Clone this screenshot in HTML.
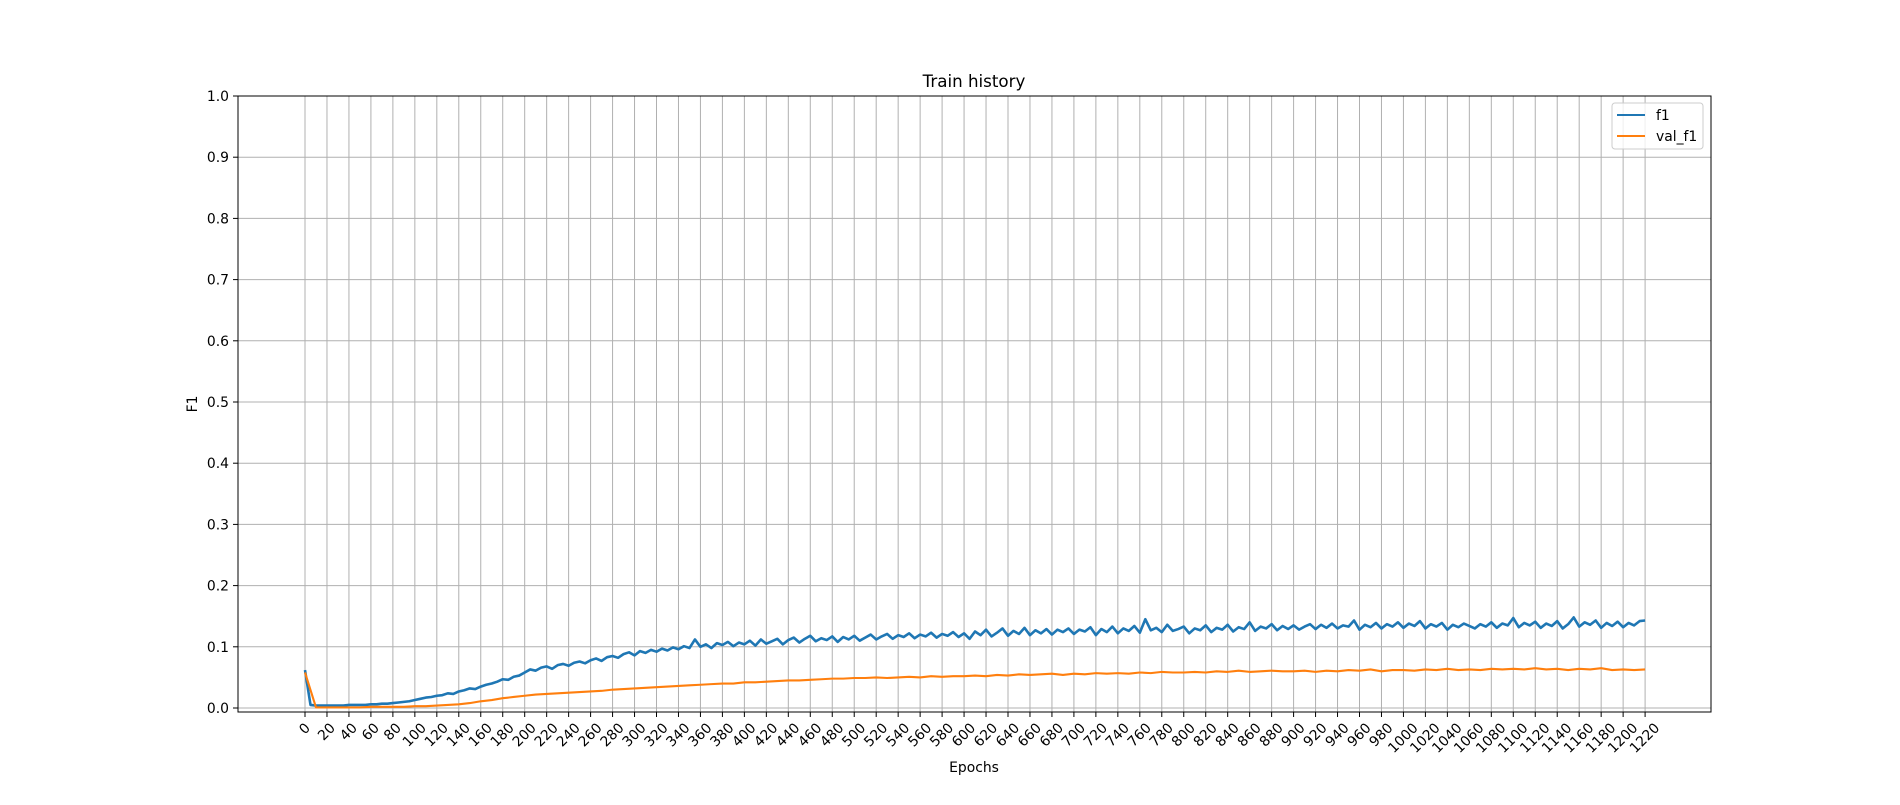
<!DOCTYPE html>
<html><head><meta charset="utf-8"><style>
html,body{margin:0;padding:0;background:#fff;}
svg text{font-family:"DejaVu Sans","Liberation Sans",sans-serif;fill:#000;}
</style></head><body>
<svg id="chart" width="1900" height="800" viewBox="0 0 1900 800" xmlns="http://www.w3.org/2000/svg">
<rect width="1900" height="800" fill="#fff"/>
<g id="grid"></g>
<g id="series"></g>
<rect x="238" y="96" width="1473" height="616" fill="none" stroke="#000" stroke-width="1"/>
<g id="ticks"></g>
<text x="974" y="87" text-anchor="middle" font-size="16.7">Train history</text>
<text x="974" y="772" text-anchor="middle" font-size="13.9">Epochs</text>
<text x="0" y="0" text-anchor="middle" font-size="13.9" transform="translate(197,404) rotate(-90)">F1</text>
<g>
<rect x="1612" y="103" width="91" height="46" rx="3" fill="#fff" fill-opacity="0.8" stroke="#ccc"/>
<line x1="1617" y1="115" x2="1645" y2="115" stroke="#1f77b4" stroke-width="2"/>
<text x="1656" y="120" font-size="13.9">f1</text>
<line x1="1617" y1="136" x2="1645" y2="136" stroke="#ff7f0e" stroke-width="2"/>
<text x="1656" y="141" font-size="13.9">val_f1</text>
</g>
</svg>
<script>
const f1Step = 5;
const f1Values = [
0.062,0.005,0.004,0.004,0.004,0.004,0.004,0.004,0.005,0.005,0.005,0.005,0.006,0.006,0.007,0.007,0.008,0.009,0.010,0.011,
0.013,0.015,0.017,0.018,0.020,0.021,0.024,0.023,0.027,0.029,0.032,0.031,0.035,0.038,0.040,0.043,0.047,0.046,0.051,0.053,
0.058,0.063,0.061,0.066,0.068,0.064,0.070,0.072,0.069,0.074,0.076,0.073,0.078,0.081,0.077,0.083,0.085,0.082,0.088,0.091,
0.086,0.093,0.090,0.095,0.092,0.097,0.094,0.099,0.096,0.101,0.098,0.112,0.100,0.104,0.098,0.106,0.103,0.108,0.101,0.107,
0.104,0.110,0.102,0.112,0.105,0.109,0.113,0.104,0.111,0.115,0.107,0.113,0.118,0.109,0.114,0.111,0.117,0.108,0.116,0.112,
0.118,0.110,0.115,0.120,0.112,0.117,0.121,0.113,0.119,0.116,0.122,0.114,0.120,0.117,0.123,0.115,0.121,0.118,0.124,0.116,
0.122,0.113,0.125,0.119,0.128,0.117,0.123,0.130,0.118,0.126,0.121,0.131,0.119,0.127,0.122,0.129,0.120,0.128,0.124,0.130,
0.121,0.128,0.125,0.132,0.119,0.129,0.124,0.133,0.122,0.130,0.126,0.134,0.123,0.145,0.127,0.131,0.124,0.136,0.126,0.129,
0.133,0.122,0.130,0.127,0.135,0.124,0.131,0.128,0.136,0.125,0.132,0.129,0.140,0.126,0.133,0.130,0.137,0.127,0.134,0.129,
0.135,0.128,0.133,0.137,0.129,0.136,0.131,0.138,0.130,0.135,0.133,0.143,0.128,0.136,0.132,0.139,0.130,0.137,0.133,0.140,
0.131,0.138,0.134,0.142,0.130,0.137,0.133,0.139,0.128,0.136,0.132,0.138,0.134,0.130,0.137,0.133,0.140,0.131,0.138,0.135,
0.147,0.132,0.139,0.135,0.141,0.131,0.138,0.134,0.142,0.130,0.137,0.148,0.133,0.140,0.136,0.143,0.131,0.139,0.134,0.141,
0.132,0.139,0.135,0.142,0.143];
const valStep = 10;
const valF1Values = [
0.058,0.001,0.001,0.001,0.001,0.001,0.002,0.002,0.002,0.002,
0.003,0.003,0.004,0.005,0.006,0.008,0.011,0.013,0.016,0.018,
0.020,0.022,0.023,0.024,0.025,0.026,0.027,0.028,0.030,0.031,
0.032,0.033,0.034,0.035,0.036,0.037,0.038,0.039,0.040,0.040,
0.042,0.042,0.043,0.044,0.045,0.045,0.046,0.047,0.048,0.048,
0.049,0.049,0.050,0.049,0.050,0.051,0.050,0.052,0.051,0.052,
0.052,0.053,0.052,0.054,0.053,0.055,0.054,0.055,0.056,0.054,
0.056,0.055,0.057,0.056,0.057,0.056,0.058,0.057,0.059,0.058,
0.058,0.059,0.058,0.060,0.059,0.061,0.059,0.060,0.061,0.060,
0.060,0.061,0.059,0.061,0.060,0.062,0.061,0.063,0.060,0.062,
0.062,0.061,0.063,0.062,0.064,0.062,0.063,0.062,0.064,0.063,
0.064,0.063,0.065,0.063,0.064,0.062,0.064,0.063,0.065,0.062,
0.063,0.062,0.063];
const xTickLabels = [];
for (let t = 0; t <= 1220; t += 20) xTickLabels.push(String(t));
const yTickLabels = ["0.0","0.1","0.2","0.3","0.4","0.5","0.6","0.7","0.8","0.9","1.0"];

const NS = "http://www.w3.org/2000/svg";
const X0 = 238, X1 = 1711, XMIN = -61, XMAX = 1280;
const xs = e => X0 + (e - XMIN) * (X1 - X0) / (XMAX - XMIN);
const ys = v => 708 - 612 * v;
function mk(tag, attrs, parent) {
  const el = document.createElementNS(NS, tag);
  for (const k in attrs) el.setAttribute(k, attrs[k]);
  parent.appendChild(el);
  return el;
}
const grid = document.getElementById('grid');
const ticks = document.getElementById('ticks');
const series = document.getElementById('series');

xTickLabels.forEach(lbl => {
  const x = xs(Number(lbl));
  const g = mk('line', {x1:x, y1:96, x2:x, y2:712, stroke:'#b0b0b0', 'stroke-width':1}, grid);
  
  
  const t = mk('line', {x1:x, y1:712, x2:x, y2:717, stroke:'#000', 'stroke-width':1}, ticks);
  
  
  const w = lbl.length * 8.85, h = 13.9;
  const half = (w * 0.7071 + h * 0.7071) / 2;
  const cy = 721 + half;
  const tx = mk('text', {x:0, y:0, 'text-anchor':'middle', 'dominant-baseline':'central', 'font-size':'13.9', transform:`translate(${x},${cy}) rotate(-45)`}, ticks);
  tx.textContent = lbl;
  
  
});
yTickLabels.forEach(lbl => {
  const y = ys(Number(lbl));
  const g = mk('line', {x1:238, y1:y, x2:1711, y2:y, stroke:'#b0b0b0', 'stroke-width':1}, grid);
  
  
  const t = mk('line', {x1:233, y1:y, x2:238, y2:y, stroke:'#000', 'stroke-width':1}, ticks);
  
  
  const tx = mk('text', {x:229, y:y + 5, 'text-anchor':'end', 'font-size':'13.9'}, ticks);
  tx.textContent = lbl;
  
  
});

function pathFor(vals, step) {
  return vals.map((v, i) => (i ? 'L' : 'M') + xs(i * step).toFixed(2) + ',' + ys(v).toFixed(2)).join('');
}
const p1 = mk('path', {d: pathFor(f1Values, f1Step), fill:'none', stroke:'#1f77b4', 'stroke-width':2.6, 'stroke-linejoin':'round'}, series);


const p2 = mk('path', {d: pathFor(valF1Values, valStep), fill:'none', stroke:'#ff7f0e', 'stroke-width':2.1, 'stroke-linejoin':'round'}, series);


</script>
</body></html>
